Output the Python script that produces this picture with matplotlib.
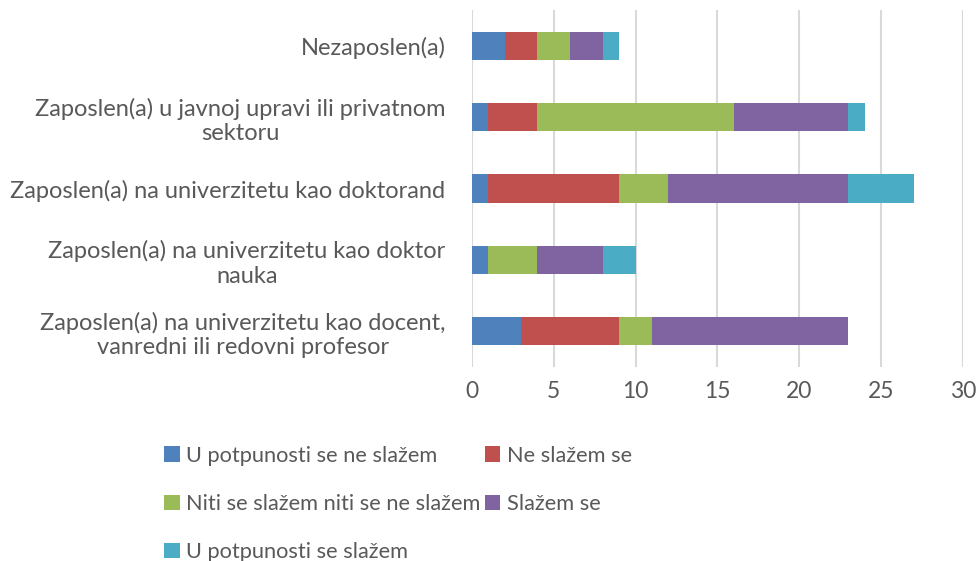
import matplotlib.pyplot as plt
import numpy as np

categories = ["Zaposlen(a) na univerzitetu kao docent,\nvanredni ili redovni profesor",
              "Zaposlen(a) na univerzitetu kao doktor\nnauka",
              "Zaposlen(a) na univerzitetu kao doktorand",
              "Zaposlen(a) u javnoj upravi ili privatnom\nsektoru",
              "Nezaposlen(a)"]
series = ["U potpunosti se ne slažem", "Ne slažem se",
          "Niti se slažem niti se ne slažem", "Slažem se",
          "U potpunosti se slažem"]
u_potpunosti_ne = [3, 1, 1, 1, 2]
ne_slazem = [6, 0, 8, 3, 2]
niti_niti = [2, 3, 3, 12, 2]
slazem = [12, 4, 11, 7, 2]
u_potpunosti_da = [0, 2, 4, 1, 1]
colors = ["#4f81bd", "#c0504d", "#9bbb59", "#8064a2", "#4bacc6"]

plt.rcParams['font.family'] = ['Lato', 'DejaVu Sans']
fig = plt.figure(figsize=(9.79, 5.61), dpi=100)
ax = fig.add_axes([0.482, 0.346, 0.5017, 0.636])

y = np.arange(len(categories))
left = np.zeros(len(categories))
for name, vals, c in zip(series, [u_potpunosti_ne, ne_slazem, niti_niti, slazem, u_potpunosti_da], colors):
    vals = np.array(vals, dtype=float)
    ax.barh(y, vals, left=left, height=0.4, color=c, label=name, zorder=3)
    left += vals

ax.set_xlim(0, 30)
ax.set_ylim(-0.5, 4.5)
ax.set_xticks(range(0, 31, 5))
ax.set_yticks(y)
ax.set_yticklabels(categories, multialignment='center')
ax.grid(axis='x', color='#d9d9d9', linewidth=1.5, zorder=0)
for s in ax.spines.values():
    s.set_visible(False)
ax.tick_params(length=0, colors='#595959')
ax.tick_params(axis='y', labelsize=17, pad=19)
ax.tick_params(axis='x', labelsize=16.5, pad=10)

# legend fills row by row in the reference
handles, labels = ax.get_legend_handles_labels()
order = [0, 2, 4, 1, 3]
fig.legend([handles[i] for i in order], [labels[i] for i in order],
           loc='upper left', bbox_to_anchor=(0.159, 0.221), ncol=2, frameon=False,
           fontsize=15.7, labelcolor='#595959', handlelength=0.7, handleheight=0.7,
           handletextpad=0.3, columnspacing=0.2, labelspacing=1.3, borderaxespad=0)

fig.savefig("out.png", dpi=100)
